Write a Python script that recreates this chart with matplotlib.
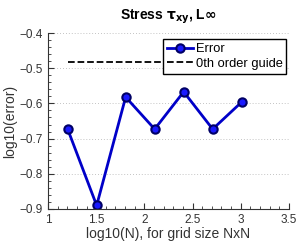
import matplotlib
matplotlib.use("Agg")
import matplotlib.pyplot as plt
from matplotlib.ticker import MultipleLocator

plt.rcParams['font.family'] = ['Liberation Sans', 'DejaVu Sans']

log_n = [1.204, 1.505, 1.806, 2.107, 2.408, 2.709, 3.010]
log_err = [-0.673, -0.890, -0.582, -0.673, -0.567, -0.673, -0.596]
guide_x = [1.204, 3.010]
guide_y = [-0.483, -0.483]

fig = plt.figure(figsize=(3.0, 2.43), dpi=100)
ax = fig.add_axes([0.16, 0.14, 0.803, 0.724])

ax.plot(log_n, log_err, color='#0000c8', lw=2.0, marker='o', ms=6,
        mfc='#1a1aff', mec='#000066', mew=1.5, label='Error')
ax.plot(guide_x, guide_y, 'k--', lw=1.3, label='0th order guide')

ax.set_xlim(1, 3.5)
ax.set_ylim(-0.9, -0.4)
ax.xaxis.set_major_locator(MultipleLocator(0.5))
ax.xaxis.set_minor_locator(MultipleLocator(0.1))
ax.yaxis.set_major_locator(MultipleLocator(0.1))
ax.yaxis.set_minor_locator(MultipleLocator(0.02))
ax.tick_params(which='both', direction='in', labelsize=8.5, colors='#333333', labelcolor='#333333')
ax.tick_params(which='major', length=4)
ax.tick_params(which='minor', length=2)
ax.xaxis.set_major_formatter(matplotlib.ticker.FuncFormatter(lambda v, p: f"{v:g}"))
ax.yaxis.set_major_formatter(matplotlib.ticker.FuncFormatter(lambda v, p: f"{v:g}".replace('-', '\u2212')))
ax.yaxis.grid(True, which='major', linestyle=(0, (1, 2.5)), color='#b0b0b0', lw=0.6)
ax.spines['top'].set_visible(False)
ax.spines['right'].set_visible(False)
ax.spines['left'].set_color('#333333')
ax.spines['bottom'].set_color('#333333')

ax.set_xlabel('log10(N), for grid size NxN', fontsize=10, color='#333333', labelpad=1)
ax.set_ylabel('log10(error)', fontsize=10, color='#333333', labelpad=2)
ax.set_title(r'Stress $\mathbf{\tau_{xy}}$, L$\mathbf{\infty}$', fontsize=10, fontweight='bold', pad=10)

leg = ax.legend(loc='upper right', bbox_to_anchor=(0.99, 0.965), fontsize=9.3, frameon=True,
                fancybox=False, edgecolor='black', framealpha=1, borderpad=0.3,
                handlelength=2.0, handletextpad=0.2, labelspacing=0.2, borderaxespad=0.0)
leg.get_frame().set_linewidth(1.0)

fig.savefig('out.png', dpi=100)
